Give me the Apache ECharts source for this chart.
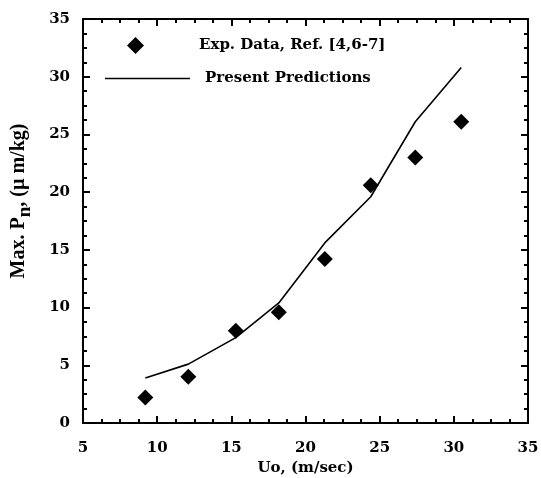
<!DOCTYPE html>
<html>
<head>
    <meta charset="utf-8">
    <title>Max Pn vs Uo</title>
    <style>
        html,body,#main{
            height: 100%;
            width: 100%;
            padding: 0;
            margin: 0;
            background: #fff;
        }
    </style>
</head>
<body>
    <div id="main"></div>
    <script src="https://cdn.jsdelivr.net/npm/echarts@6/dist/echarts.min.js"></script>
    <script>
        // values
        var uo = [9.2, 12.1, 15.3, 18.2, 21.3, 24.4, 27.4, 30.5];
        var expData = [2.2, 4.0, 8.0, 9.6, 14.2, 20.6, 23.0, 26.1];
        var predData = [3.9, 5.1, 7.4, 10.4, 15.6, 19.6, 26.1, 30.8];

        var font = 'DejaVu Serif';
        var titleFont = 'Liberation Serif';
        var chart = echarts.init(document.getElementById('main'));

        function pairs(xs, ys){
            return xs.map(function(x, i){ return [x, ys[i]]; });
        }

        function ax(opts){
            var base = {
                min: 0, max: 35, interval: 5,
                axisLine: {show: true, onZero: false, lineStyle: {color: '#000', width: 2}},
                axisTick: {show: true, inside: true, length: 7, lineStyle: {color: '#000', width: 2}},
                minorTick: {show: true, splitNumber: 4, length: 4, lineStyle: {color: '#000', width: 2}},
                splitLine: {show: false},
                axisLabel: {show: true, color: '#000', fontFamily: font, fontWeight: 'bold', fontSize: 15}
            };
            return Object.assign(base, opts);
        }

        var option = {
            animation: false,
            grid: {left: 83, right: 13, top: 19, bottom: 55, containLabel: false, outerBoundsMode: 'none'},
            legend: [{
                data: ['Exp. Data, Ref. [4,6-7]'],
                left: 122, top: 32,
                icon: 'diamond', itemWidth: 17, itemHeight: 17,
                textStyle: {color: '#000', fontFamily: font, fontWeight: 'bold', fontSize: 15, padding: [0, 0, 0, 50]}
            }, {
                data: ['Present Predictions'],
                left: 100, top: 66,
                icon: 'rect', itemWidth: 85, itemHeight: 1.6,
                textStyle: {color: '#000', fontFamily: font, fontWeight: 'bold', fontSize: 15, padding: [0, 0, 0, 10]}
            }],
            xAxis: [
                ax({
                    type: 'value', min: 5, position: 'bottom',
                    name: 'Uo, (m/sec)', nameLocation: 'middle', nameGap: 28,
                    nameTextStyle: {color: '#000', fontFamily: font, fontWeight: 'bold', fontSize: 15},
                    axisLabel: {color: '#000', fontFamily: font, fontWeight: 'bold', fontSize: 15, margin: 18}
                }),
                ax({type: 'value', min: 5, position: 'top', axisLabel: {show: false}})
            ],
            yAxis: [
                ax({
                    type: 'value', position: 'left',
                    name: '{a|Max. P}{s|n}{a|, (\u00b5 m/kg)}', nameLocation: 'middle', nameGap: 48, nameRotate: 90,
                    nameTextStyle: {
                        color: '#000', fontFamily: titleFont, fontWeight: 'bold', fontSize: 20,
                        padding: [0, 0, 0, 40],
                        rich: {
                            a: {color: '#000', fontFamily: titleFont, fontWeight: 'bold', fontSize: 20},
                            s: {color: '#000', fontFamily: titleFont, fontWeight: 'bold', fontSize: 19, padding: [13, 0, 0, 0]}
                        }
                    },
                    axisLabel: {color: '#000', fontFamily: font, fontWeight: 'bold', fontSize: 15, margin: 13}
                }),
                ax({type: 'value', position: 'right', axisLabel: {show: false}})
            ],
            series: [{
                name: 'Exp. Data, Ref. [4,6-7]',
                type: 'scatter',
                symbol: 'diamond', symbolSize: 16,
                itemStyle: {color: '#000', opacity: 1},
                data: pairs(uo, expData)
            }, {
                name: 'Present Predictions',
                type: 'line',
                symbol: 'none',
                lineStyle: {color: '#000', width: 1.6},
                itemStyle: {color: '#000'},
                data: pairs(uo, predData)
            }]
        };

        chart.setOption(option);
    </script>
</body>
</html>
